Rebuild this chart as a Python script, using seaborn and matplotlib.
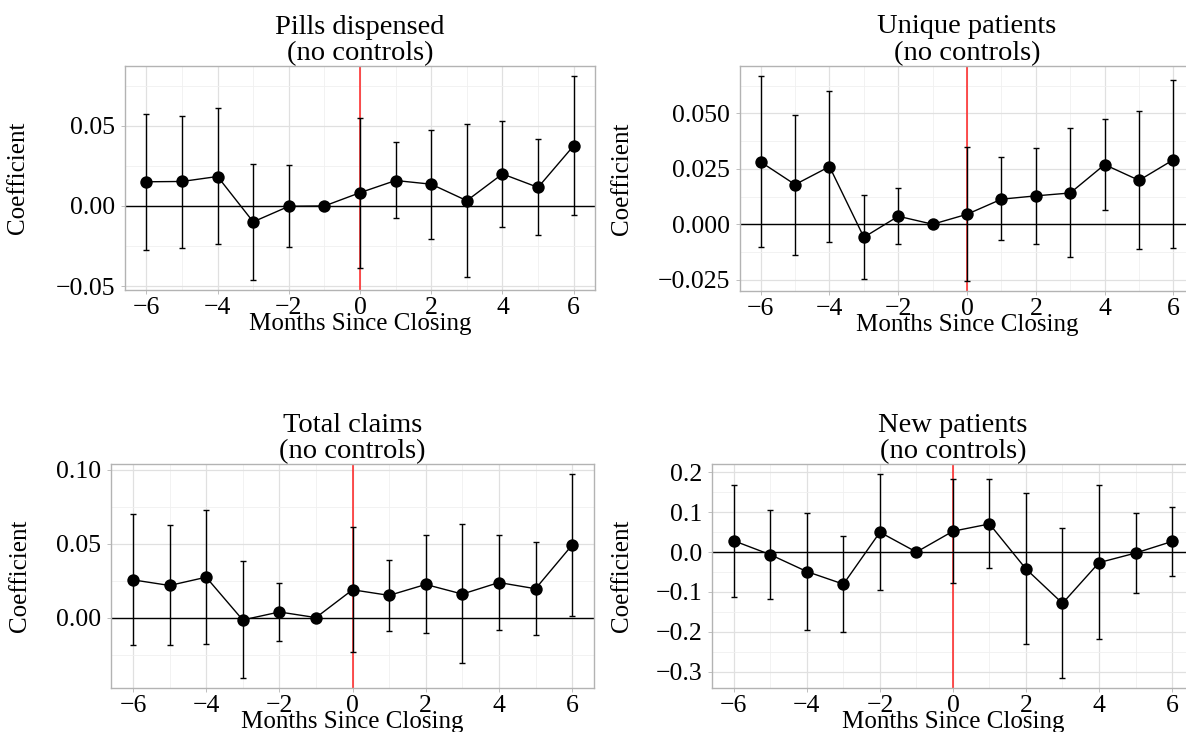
import numpy as np
import pandas as pd
import matplotlib
matplotlib.use("Agg")
import matplotlib.pyplot as plt
import seaborn as sns
from matplotlib.ticker import MultipleLocator

# ----------------------------------------------
# Event-study coefficients
# ----------------------------------------------
MONTHS = [-6, -5, -4, -3, -2, -1, 0, 1, 2, 3, 4, 5, 6]

PILLS_COEF = [0.0151, 0.0153, 0.0184, -0.0099, -0.0002, 0.0, 0.0083, 0.0159, 0.0136, 0.0033, 0.0200, 0.0116, 0.0376]
PILLS_HI = [0.0574, 0.0564, 0.0610, 0.0262, 0.0256, 0.0, 0.0552, 0.0397, 0.0477, 0.0514, 0.0533, 0.0421, 0.0810]
PILLS_LO = [-0.0273, -0.0260, -0.0240, -0.0461, -0.0256, 0.0, -0.0386, -0.0076, -0.0205, -0.0444, -0.0130, -0.0184, -0.0056]

UNIQUE_COEF = [0.0281, 0.0179, 0.0260, -0.0059, 0.0036, 0.0, 0.0045, 0.0113, 0.0128, 0.0141, 0.0269, 0.0198, 0.0291]
UNIQUE_HI = [0.0668, 0.0494, 0.0602, 0.0134, 0.0164, 0.0, 0.0348, 0.0302, 0.0344, 0.0434, 0.0474, 0.0510, 0.0652]
UNIQUE_LO = [-0.0105, -0.0137, -0.0082, -0.0249, -0.0091, 0.0, -0.0255, -0.0073, -0.0089, -0.0150, 0.0064, -0.0114, -0.0108]

CLAIMS_COEF = [0.0255, 0.0217, 0.0273, -0.0016, 0.0038, 0.0, 0.0188, 0.0150, 0.0224, 0.0159, 0.0237, 0.0195, 0.0490]
CLAIMS_HI = [0.0698, 0.0626, 0.0729, 0.0383, 0.0235, 0.0, 0.0611, 0.0392, 0.0557, 0.0633, 0.0559, 0.0510, 0.0969]
CLAIMS_LO = [-0.0183, -0.0188, -0.0179, -0.0407, -0.0159, 0.0, -0.0233, -0.0092, -0.0107, -0.0309, -0.0085, -0.0119, 0.0009]

NEW_COEF = [0.0282, -0.0066, -0.0489, -0.0804, 0.0497, 0.0, 0.0522, 0.0704, -0.0423, -0.1284, -0.0265, -0.0025, 0.0265]
NEW_HI = [0.168, 0.105, 0.098, 0.039, 0.195, 0.0, 0.182, 0.182, 0.147, 0.059, 0.167, 0.0986, 0.1135]
NEW_LO = [-0.112, -0.118, -0.196, -0.199, -0.096, 0.0, -0.078, -0.041, -0.230, -0.315, -0.219, -0.102, -0.0605]

TITLES = ["Pills dispensed\n(no controls)", "Unique patients\n(no controls)",
          "Total claims\n(no controls)", "New patients\n(no controls)"]
Y_STEPS = [0.05, 0.025, 0.05, 0.1]
Y_FORMATS = ["{:.2f}", "{:.3f}", "{:.2f}", "{:.1f}"]

# axes rectangles in figure fractions (right column runs past the edge like the original)
POSITIONS = [
    [0.1054, 0.6038, 0.3963, 0.3060],
    [0.6240, 0.6025, 0.3828, 0.3074],
    [0.0936, 0.0601, 0.4073, 0.3060],
    [0.6003, 0.0601, 0.4064, 0.3060],
]
YLABEL_X = [-0.205, -0.236, -0.166, -0.164]

sns.set_theme(style="white")
plt.rcParams["font.family"] = ["Liberation Serif", "DejaVu Serif"]
plt.rcParams["axes.unicode_minus"] = True
for key in ["text.color", "axes.labelcolor", "xtick.labelcolor", "ytick.labelcolor"]:
    plt.rcParams[key] = "black"


def panel(ax, coef, lo, hi, title, step, fmt, ylab_x):
    df = pd.DataFrame({"month": MONTHS, "coef": coef, "lo": lo, "hi": hi})

    # expanded limits like ggplot (5% each side)
    ymin, ymax = min(lo), max(hi)
    pad = 0.05 * (ymax - ymin)
    ax.set_xlim(-6.6, 6.6)
    ax.set_ylim(ymin - pad, ymax + pad)

    ax.xaxis.set_major_locator(MultipleLocator(2))
    ax.xaxis.set_minor_locator(MultipleLocator(1))
    ax.yaxis.set_major_locator(MultipleLocator(step))
    ax.yaxis.set_minor_locator(MultipleLocator(step / 2))
    ax.grid(which="major", color="#e0e0e0", linewidth=0.9)
    ax.grid(which="minor", color="#f0f0f0", linewidth=0.6)
    ax.set_axisbelow(True)

    ax.axvline(0, color="#ff2020", linewidth=1.1, zorder=1)
    ax.axhline(0, color="black", linewidth=1.0, zorder=1)

    ax.errorbar(df["month"], df["coef"],
                yerr=[df["coef"] - df["lo"], df["hi"] - df["coef"]],
                fmt="none", ecolor="black", elinewidth=1.0, capsize=2.2, capthick=1.0, zorder=2)
    sns.lineplot(data=df, x="month", y="coef", color="black", linewidth=1.0, ax=ax, zorder=3)
    sns.scatterplot(data=df, x="month", y="coef", color="black", s=80, edgecolor="black",
                    linewidth=0, ax=ax, zorder=4)

    ax.set_yticklabels([fmt.format(v).replace("-", "\u2212") for v in ax.get_yticks()])
    ax.set_title(title, fontsize=20.5, pad=4, linespacing=1.1)
    ax.set_xlabel("Months Since Closing", fontsize=18, labelpad=-4)
    ax.set_ylabel("Coefficient", fontsize=18)
    ax.yaxis.set_label_coords(ylab_x, 0.5)
    ax.tick_params(axis="both", which="major", labelsize=18.5, length=3, width=0.6,
                   color="#b3b3b3", pad=2, bottom=True, left=True)
    ax.tick_params(axis="y", which="major", pad=4)
    ax.tick_params(which="minor", length=0)
    for sp in ax.spines.values():
        sp.set_color("#b3b3b3")
        sp.set_linewidth(1.0)


fig = plt.figure(figsize=(11.86, 7.32), dpi=100)
series = [
    (PILLS_COEF, PILLS_LO, PILLS_HI),
    (UNIQUE_COEF, UNIQUE_LO, UNIQUE_HI),
    (CLAIMS_COEF, CLAIMS_LO, CLAIMS_HI),
    (NEW_COEF, NEW_LO, NEW_HI),
]
for i, (coef, lo, hi) in enumerate(series):
    ax = fig.add_axes(POSITIONS[i])
    panel(ax, coef, lo, hi, TITLES[i], Y_STEPS[i], Y_FORMATS[i], YLABEL_X[i])

fig.savefig("out.png", dpi=100)
plt.close(fig)
